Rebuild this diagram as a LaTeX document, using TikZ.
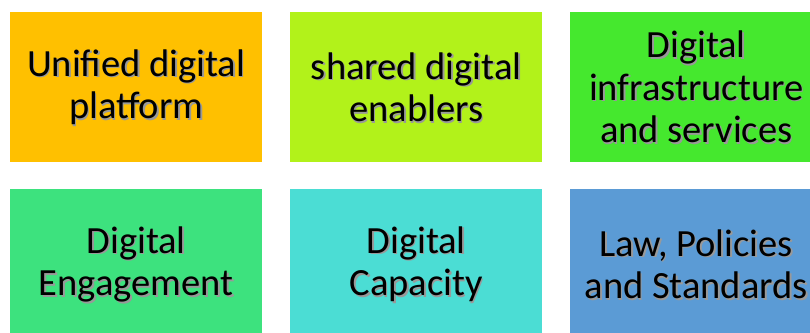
\documentclass[tikz,border=0pt]{standalone}
\usepackage{fontspec}
\setmainfont{Carlito}
\usetikzlibrary{positioning}

\definecolor{tilegold}{HTML}{FFC000}
\definecolor{tilelime}{HTML}{B2F21A}
\definecolor{tilegreen}{HTML}{45E82E}
\definecolor{tilemint}{HTML}{3DE27E}
\definecolor{tileaqua}{HTML}{4BDDD4}
\definecolor{tileblue}{HTML}{5B9BD5}

\tikzset{
    tile/.style={minimum width=252pt, minimum height=150pt, inner sep=0pt, anchor=north west},
    tiletext/.style={align=center, inner sep=0pt, font=\fontsize{38.5}{42.5}\selectfont},
}

\begin{document}
\begin{tikzpicture}
    \useasboundingbox (0,0) rectangle (810pt,-332pt);
    \clip (0,0) rectangle (810pt,-332pt);
    \foreach \n/\c/\x/\y/\t in {
        platform/tilegold/10/12/{Unified digital\\platform},
        enablers/tilelime/290/12/{shared digital\\enablers},
        infra/tilegreen/570/12/{Digital\\infrastructure\\and services},
        engage/tilemint/10/189/{Digital\\Engagement},
        capacity/tileaqua/290/189/{Digital\\Capacity},
        law/tileblue/570/189/{Law, Policies\\and Standards}} {
        \node[tile, fill=\c] (\n) at (\x pt,-\y pt) {};
        % soft drop shadow under the words
        \node[tiletext, text=black!40] at ([xshift=1.5pt,yshift=-1.5pt]\n.center) {\t};
        \node[tiletext] at (\n.center) {\t};
    }
\end{tikzpicture}
\end{document}
